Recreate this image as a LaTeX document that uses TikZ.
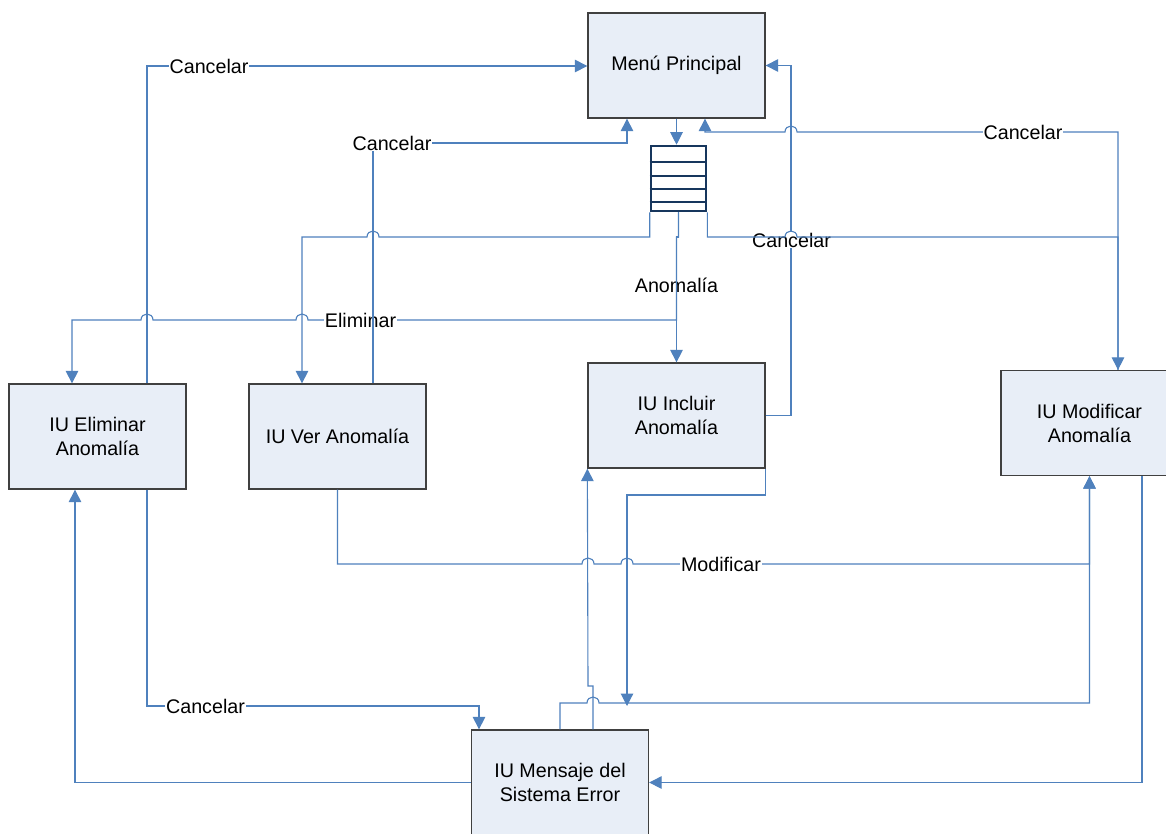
\documentclass[tikz,border=0pt]{standalone}
\usepackage{fontspec}
\setmainfont{Liberation Sans}
\usetikzlibrary{arrows.meta,calc}
\definecolor{conn}{RGB}{79,129,189}
\definecolor{boxfill}{RGB}{232,238,247}
\definecolor{boxline}{RGB}{64,64,64}
\definecolor{stackline}{RGB}{23,54,93}
\begin{document}
\begin{tikzpicture}[x=1pt,y=-1pt,
  font=\fontsize{19.7}{24}\selectfont,
  box/.style={draw=boxline,line width=1.3pt,fill=boxfill,minimum width=177pt,minimum height=105pt,align=center,inner sep=0pt},
  stackbox/.style={draw=stackline,line width=2.6pt,fill=white,minimum width=55pt,minimum height=65pt,inner sep=0pt},
  conn/.style={draw=conn,line width=1.1pt},
  arr/.style={conn,-{Triangle[width=12.5pt,length=12.5pt]}},
  lbl/.style={fill=white,inner sep=1pt,text=black}
]
\useasboundingbox (0,0) rectangle (1166,833);
\clip (0,0) rectangle (1166,833);
\fill[white] (0,0) rectangle (1166,833);

% nodes
\node[box] (menu) at (676.5,65.5) {Menú Principal};
\node[stackbox] (stack) at (678.5,178.5) {};
\foreach \yy in {162,176,189,202}
  \draw[stackline,line width=1.6pt] (stack.west |- 0,\yy) -- (stack.east |- 0,\yy);
\node[box] (elim) at (97.5,436.5) {IU Eliminar\\Anomalía};
\node[box] (ver) at (337.5,436.5) {IU Ver Anomalía};
\node[box] (incl) at (676.5,415.5) {IU Incluir\\Anomalía};
\node[box] (modif) at (1089.5,423) {IU Modificar\\Anomalía};
\node[box] (msg) at (560,782.5) {IU Mensaje del\\Sistema Error};

% Menu -> stack
\draw[arr] (menu.south) -- (menu.south |- stack.north);

% stack -> Incluir (Anomalia)
\draw[arr] (stack.south) -- (stack.south |- 0,237) -- (incl.north |- 0,237) -- (incl.north);
\node[lbl] (lanom) at (676.5,285) {Anomalía};

% stack -> Eliminar
\draw[arr] (stack.south) -- (stack.south |- 0,237) -- (incl.north |- 0,237) -- (incl.north |- 0,320)
  -- (308,320) .. controls (308,312) and (296,312) .. (296,320)
  -- (153,320) .. controls (153,312) and (141,312) .. (141,320)
  -- (72,320) -- (elim.north -| 72,0);
\node[lbl] (lelim) at (360.5,320) {Eliminar};

% stack -> Ver
\draw[arr] (stack.south west) -- (stack.south west |- 0,237)
  -- (379,237) .. controls (379,229) and (367,229) .. (367,237)
  -- (302,237) -- (ver.north -| 302,0);

% Incluir -> Menu (Cancelar)
\draw[arr] (incl.east) -- (incl.east -| 791,0) -- (menu.east -| 791,0) -- (menu.east);
\node[lbl] (lcanincl) at (791.5,240) {Cancelar};

% stack -> Modificar
\draw[arr] (stack.south east) -- (stack.south east |- 0,237)
  -- (785,237) .. controls (785,229) and (797,229) .. (797,237)
  -- (1118,237) -- (modif.north -| 1118,0);

% Modificar -> Menu (Cancelar)
\draw[arr] (modif.north -| 1118,0) -- (1118,132)
  -- (797,132) .. controls (797,124) and (785,124) .. (785,132)
  -- (705,132) -- (menu.south -| 705,0);
\node[lbl] (lcanmod) at (1023,132) {Cancelar};

% Eliminar -> Menu (Cancelar)
\draw[arr] (elim.north -| 147,0) -- (147,66) -- (menu.west |- 0,66);
\node[lbl] (lcanelim) at (209,66) {Cancelar};

% Ver -> Menu (Cancelar)
\draw[arr] (ver.north -| 373,0) -- (373,143) -- (627,143) -- (menu.south -| 627,0);
\node[lbl] (lcanver) at (392,143) {Cancelar};

% Ver -> Modificar (Modificar)
\draw[arr] (ver.south) -- (ver.south |- 0,564)
  -- (582,564) .. controls (582,556) and (594,556) .. (594,564)
  -- (621,564) .. controls (621,556) and (633,556) .. (633,564)
  -- (modif.south |- 0,564) -- (modif.south);
\node[lbl] (lmodif) at (721,564) {Modificar};

% Incluir -> (Mensaje)
\coordinate (kend) at (627,706);
\draw[arr] (incl.south east) -- (incl.south east |- 0,495) -- (kend |- 0,495) -- (kend);

% Mensaje -> Modificar
\draw[arr] (msg.north -| 560,0) -- (560,703)
  -- (587,703) .. controls (587,695) and (599,695) .. (599,703)
  -- (modif.south |- 0,703) -- (modif.south);

% Mensaje -> Incluir
\draw[arr] (msg.north -| 593,0) -- (593,686) -- (588,686) -- (incl.south west);

% Eliminar -> Mensaje (Cancelar)
\draw[arr] (elim.south -| 147,0) -- (147,706) -- (479,706) -- (msg.north -| 479,0);
\node[lbl] (lcanelim2) at (205.5,706) {Cancelar};

% Mensaje -> Eliminar
\draw[arr] (msg.west) -- (msg.west -| 75,0) -- (elim.south -| 75,0);

% Modificar -> Mensaje
\draw[arr] (modif.south -| 1142,0) -- (msg.east -| 1142,0) -- (msg.east);
\end{tikzpicture}
\end{document}
